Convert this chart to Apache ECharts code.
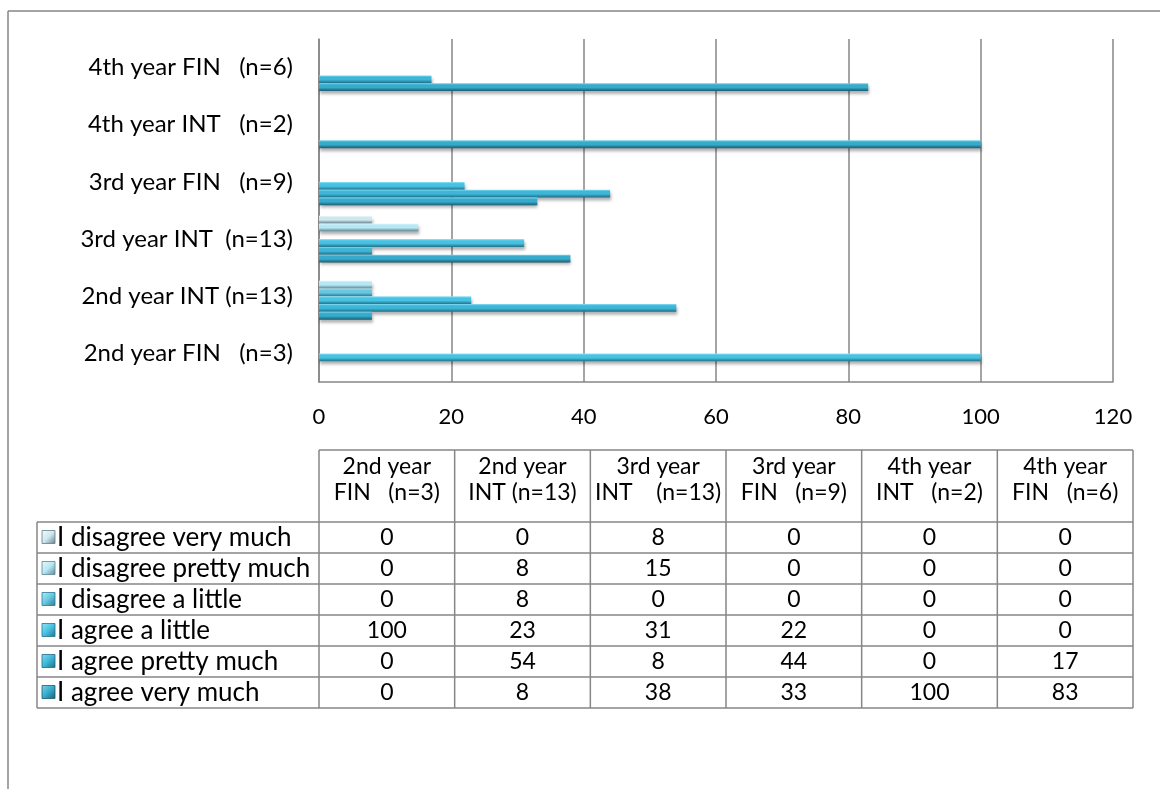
<!DOCTYPE html>
<html>
<head>
<meta charset="utf-8">
<script src="https://cdn.jsdelivr.net/npm/echarts@6/dist/echarts.min.js"></script>
<style>
  html, body { margin: 0; padding: 0; background: #ffffff; }
  #chart { width: 1160px; height: 789px; }
</style>
</head>
<body>
<div id="chart"></div>
<script>
// ---- data ----
const categories = [
  '2nd year FIN   (n=3)',
  '2nd year INT (n=13)',
  '3rd year INT  (n=13)',
  '3rd year FIN   (n=9)',
  '4th year INT   (n=2)',
  '4th year FIN   (n=6)'
];
const tableHeaders = [
  ['2nd year', 'FIN   (n=3)'],
  ['2nd year', 'INT (n=13)'],
  ['3rd year', 'INT    (n=13)'],
  ['3rd year', 'FIN   (n=9)'],
  ['4th year', 'INT   (n=2)'],
  ['4th year', 'FIN   (n=6)']
];
const seriesNames = [
  'I disagree very much',
  'I disagree pretty much',
  'I disagree a little',
  'I agree a little',
  'I agree pretty much',
  'I agree very much'
];
const disagreeVeryMuch   = [0, 0, 8, 0, 0, 0];
const disagreePrettyMuch = [0, 8, 15, 0, 0, 0];
const disagreeLittle     = [0, 8, 0, 0, 0, 0];
const agreeLittle        = [100, 23, 31, 22, 0, 0];
const agreePrettyMuch    = [0, 54, 8, 44, 0, 17];
const agreeVeryMuch      = [0, 8, 38, 33, 100, 83];
const seriesValues = [disagreeVeryMuch, disagreePrettyMuch, disagreeLittle,
                      agreeLittle, agreePrettyMuch, agreeVeryMuch];
const axisMin = 0, axisMax = 120, axisStep = 20;

// ---- styling ----
const FONT = 'Lato';
const GRID_GRAY = '#868686';
// light highlight, body colour, dark lower edge for each series
const palette = [
  ['#f2fbfd', '#cfe8f0', '#667f89'],
  ['#e6f9fe', '#b6e7f4', '#5f8494'],
  ['#b4eaf8', '#66c8e2', '#2b7990'],
  ['#96e6f9', '#47c2e2', '#24728a'],
  ['#88dcf2', '#3db6d7', '#206b84'],
  ['#7ed4eb', '#36abcb', '#1b5c70']
];
function barGradient(c) {
  return new echarts.graphic.LinearGradient(0, 0, 0, 1, [
    { offset: 0, color: c[0] },
    { offset: 0.22, color: c[1] },
    { offset: 0.55, color: c[1] },
    { offset: 1, color: c[2] }
  ]);
}
function keyGradient(c) {
  return new echarts.graphic.LinearGradient(0, 0, 1, 1, [
    { offset: 0, color: c[0] },
    { offset: 0.5, color: c[1] },
    { offset: 1, color: c[2] }
  ]);
}

// ---- layout ----
const plot = { left: 319, top: 39, right: 1113, bottom: 382 };
const table = { left: 37, colStart: 319, right: 1133, headTop: 450, headBottom: 522, rowH: 31 };
const W = 1160, H = 789;
const LABEL_SIZE = 24, TICK_SIZE = 22, CELL_SIZE = 23, NAME_SIZE = 26;

const chart = echarts.init(document.getElementById('chart'), null, { renderer: 'canvas' });

const series = seriesNames.map((name, i) => ({
  name: name,
  type: 'bar',
  data: seriesValues[i],
  barWidth: 7.8,
  barGap: '0%',
  itemStyle: {
    color: barGradient(palette[i]),
    shadowColor: 'rgba(0,0,0,0.3)',
    shadowBlur: 3,
    shadowOffsetX: 1,
    shadowOffsetY: 3
  },
  emphasis: { disabled: true },
  animation: false
}));

// ---- data table drawn under the plot ----
const graphics = [];
const lineStyle = { stroke: GRID_GRAY, lineWidth: 1.5 };
function hLine(x1, x2, y) {
  graphics.push({ type: 'line', shape: { x1: x1, y1: y, x2: x2, y2: y }, style: lineStyle, silent: true });
}
function vLine(x, y1, y2) {
  graphics.push({ type: 'line', shape: { x1: x, y1: y1, x2: x, y2: y2 }, style: lineStyle, silent: true });
}

// outer chart frame (top and left edges)
hLine(8, W, 11);
vLine(8, 11, H);

const nCols = categories.length;
const colW = (table.right - table.colStart) / nCols;
const tableBottom = table.headBottom + seriesNames.length * table.rowH;

// borders
hLine(table.colStart, table.right, table.headTop);
for (let r = 0; r <= seriesNames.length; r++) {
  hLine(table.left, table.right, table.headBottom + r * table.rowH);
}
vLine(table.left, table.headBottom, tableBottom);
for (let c = 0; c <= nCols; c++) {
  vLine(table.colStart + c * colW, table.headTop, tableBottom);
}

// header cells
tableHeaders.forEach((lines, c) => {
  graphics.push({
    type: 'text', silent: true,
    style: {
      x: table.colStart + (c + 0.5) * colW,
      y: (table.headTop + table.headBottom) / 2 - 6,
      text: lines.join('\n'),
      align: 'center', verticalAlign: 'middle',
      font: CELL_SIZE + 'px ' + FONT, fill: '#000', lineHeight: 26
    }
  });
});

// body rows: legend key, series name, values
seriesNames.forEach((name, r) => {
  const cy = table.headBottom + (r + 0.5) * table.rowH;
  graphics.push({
    type: 'rect', silent: true,
    shape: { x: 42, y: cy - 7, width: 13, height: 13 },
    style: { fill: keyGradient(palette[r]), stroke: palette[r][2], lineWidth: 0.8 }
  });
  graphics.push({
    type: 'text', silent: true,
    style: {
      x: 57, y: cy, text: name, align: 'left', verticalAlign: 'middle',
      font: NAME_SIZE + 'px ' + FONT, fill: '#000'
    }
  });
  seriesValues[r].forEach((v, c) => {
    graphics.push({
      type: 'text', silent: true,
      style: {
        x: table.colStart + (c + 0.5) * colW, y: cy, text: String(v),
        align: 'center', verticalAlign: 'middle',
        font: CELL_SIZE + 'px ' + FONT, fill: '#000'
      }
    });
  });
});

chart.setOption({
  backgroundColor: '#ffffff',
  animation: false,
  textStyle: { fontFamily: FONT },
  grid: {
    left: plot.left, top: plot.top,
    width: plot.right - plot.left, height: plot.bottom - plot.top,
    containLabel: false
  },
  xAxis: {
    type: 'value', min: axisMin, max: axisMax, interval: axisStep,
    axisLine: { show: true, lineStyle: { color: GRID_GRAY, width: 1.5 } },
    axisTick: { show: false },
    axisLabel: { color: '#000', fontSize: TICK_SIZE, margin: 24, fontFamily: FONT },
    splitLine: { show: true, lineStyle: { color: GRID_GRAY, width: 1.5 } }
  },
  yAxis: {
    type: 'category', data: categories,
    axisLine: { show: true, lineStyle: { color: GRID_GRAY, width: 1.5 } },
    axisTick: { show: false },
    axisLabel: { color: '#000', fontSize: LABEL_SIZE, margin: 26, fontFamily: FONT },
    splitLine: { show: false }
  },
  series: series,
  graphic: graphics
});
</script>
</body>
</html>
